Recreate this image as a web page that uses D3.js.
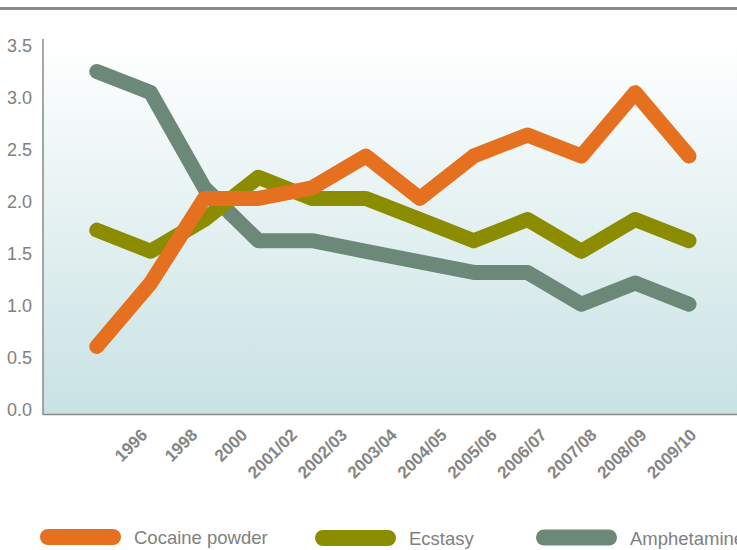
<!DOCTYPE html>
<html><head><meta charset="utf-8">
<script src="https://cdn.jsdelivr.net/npm/d3@7"></script>
<style>body{margin:0;background:#fff}svg{display:block}</style>
</head><body>
<svg id="c" width="737" height="550"></svg>
<script>
const categories = ["1996","1998","2000","2001/02","2002/03","2003/04","2004/05","2005/06","2006/07","2007/08","2008/09","2009/10"];
const cocaine = [0.6,1.2,2.0,2.0,2.1,2.4,2.0,2.4,2.6,2.4,3.0,2.4];
const ecstasy = [1.7,1.5,1.8,2.2,2.0,2.0,1.8,1.6,1.8,1.5,1.8,1.6];
const amphetamine = [3.2,3.0,2.1,1.6,1.6,1.5,1.4,1.3,1.3,1.0,1.2,1.0];
const seriesNames = ["Cocaine powder","Ecstasy","Amphetamine"];
const yTicks = [0,0.5,1.0,1.5,2.0,2.5,3.0,3.5];
const colors = ["#e57020","#8c8c00","#6b8878"];

const svg = d3.select("#c");
const plotLeft = 43, plotRight = 737, plotBottom = 414.5, plotTop = 39;

const x = d3.scalePoint().domain(categories).range([96.8, 689]);
const xLab = d3.scalePoint().domain(categories).range([148.5, 697.5]);
const y = d3.scaleLinear().domain([0,3.5]).range([410, 39.7]);
const yLab = d3.scaleLinear().domain([0,3.5]).range([410, 45.5]);

// top rule
svg.append("line").attr("x1",0).attr("x2",737).attr("y1",8.5).attr("y2",8.5)
  .attr("stroke","#8a8a8a").attr("stroke-width",3);

// background gradient
const defs = svg.append("defs");
const g = defs.append("linearGradient").attr("id","bg").attr("x1",0).attr("x2",0).attr("y1",0).attr("y2",1);
g.append("stop").attr("offset","0%").attr("stop-color","#ffffff");
g.append("stop").attr("offset","100%").attr("stop-color","#c8e2e3");
svg.append("rect").attr("x",plotLeft).attr("y",plotTop).attr("width",plotRight-plotLeft).attr("height",plotBottom-plotTop).attr("fill","url(#bg)");

// axes lines
svg.append("line").attr("x1",plotLeft).attr("x2",plotLeft).attr("y1",plotTop).attr("y2",plotBottom+0.5)
  .attr("stroke","#8a8a8a").attr("stroke-width",1.5);
svg.append("line").attr("x1",plotLeft).attr("x2",plotRight).attr("y1",plotBottom).attr("y2",plotBottom)
  .attr("stroke","#8a8a8a").attr("stroke-width",1.5);

// y tick labels
svg.append("g").selectAll("text").data(yTicks).join("text")
  .attr("x",32).attr("y",d=>yLab(d)).attr("dy","0.35em")
  .attr("text-anchor","end")
  .attr("font-family","Liberation Sans, Arial, sans-serif").attr("font-size",18)
  .attr("fill","#808080").text(d=>d.toFixed(1));

// x labels
svg.append("g").selectAll("text").data(categories).join("text")
  .attr("transform",d=>`translate(${xLab(d)},436) rotate(-45)`)
  .attr("text-anchor","end")
  .attr("font-family","Liberation Sans, Arial, sans-serif").attr("font-size",17).attr("font-weight","bold")
  .attr("fill","#858585").text(d=>d);

// lines
const seriesData = [amphetamine, ecstasy, cocaine];
const seriesColors = [colors[2], colors[1], colors[0]];
const line = d3.line().x((d,i)=>x(categories[i])).y(d=>y(d));
svg.append("g").selectAll("path").data(seriesData).join("path")
  .attr("d",line).attr("fill","none")
  .attr("stroke",(d,i)=>seriesColors[i]).attr("stroke-width",15)
  .attr("stroke-linecap","round").attr("stroke-linejoin","round");

// legend
const legX = [40, 315, 536];
const legY = [529, 530, 529.5];
const lg = svg.append("g");
seriesNames.forEach((n,i)=>{
  lg.append("rect").attr("x",legX[i]).attr("y",legY[i]).attr("width",81).attr("height",16).attr("rx",8)
    .attr("fill",colors[i]);
  lg.append("text").attr("x",legX[i]+94).attr("y",legY[i]+15)
    .attr("font-family","Liberation Sans, Arial, sans-serif").attr("font-size",18.5)
    .attr("fill","#808080").text(n);
});
</script>
</body></html>
